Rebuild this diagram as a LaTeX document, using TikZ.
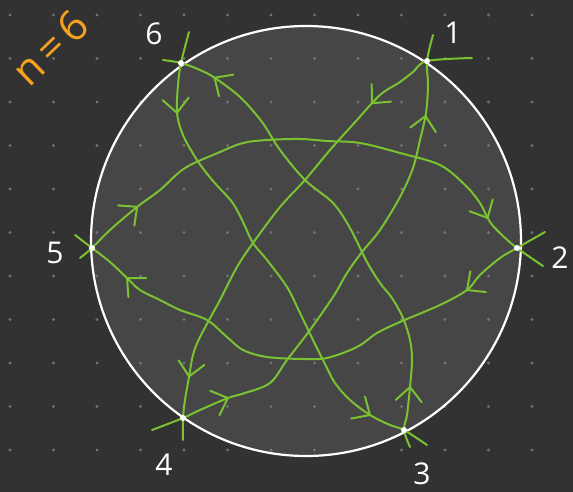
\documentclass[tikz,border=0pt]{standalone}
\usepackage{fontspec}
\setmainfont{Open Sans}
\usetikzlibrary{decorations.markings}
\definecolor{bgc}{HTML}{323232}
\definecolor{discc}{HTML}{464646}
\definecolor{dotc}{HTML}{727272}
\definecolor{grn}{HTML}{7AC232}
\definecolor{orng}{HTML}{F5A01E}
\begin{document}
\begin{tikzpicture}[x=1pt,y=-1pt,
  curve/.style={draw=grn, line width=2pt, line cap=round, line join=round},
  chev/.style={postaction={decorate,decoration={markings,mark=at position #1 with {\draw[curve] (-14pt,-13pt) -- (0pt,0pt) -- (-14pt,13pt);}}}},
  lbl/.style={text=white, font=\fontsize{30}{30}\selectfont, inner sep=0pt},
  ptdot/.style={fill=white},
]
\useasboundingbox (0,0) rectangle (573,492);
\fill[bgc] (0,0) rectangle (573,492);
% disc
\fill[discc] (306,241) circle[radius=215pt];
% grid dots
\foreach \i in {0,...,13} \foreach \j in {0,...,11}
  \fill[dotc] ({10+43.5*\i},{15+43.5*\j}) circle[radius=1.6pt];
\draw[white, line width=2.2pt] (306,241) circle[radius=215pt];
% points
\coordinate (p1) at (427,61);
\coordinate (p2) at (517,248);
\coordinate (p3) at (404,430);
\coordinate (p4) at (183,418);
\coordinate (p5) at (92,248);
\coordinate (p6) at (181,63);
% tails
\coordinate (t5u) at (80,258);  \coordinate (t2u) at (543,266);
\coordinate (t2l) at (545,232); \coordinate (t5l) at (75,235);
\coordinate (t1a) at (472,58);  \coordinate (t4a) at (183,440);
\coordinate (t4b) at (152,430); \coordinate (t1b) at (433,35);
\coordinate (t6c) at (189,32);  \coordinate (t3c) at (427,445);
\coordinate (t3d) at (410,447); \coordinate (t6d) at (163,60);
% curves
\draw[curve, chev=0.14, chev=0.865] plot[smooth, tension=0.55] coordinates {(t5u) (p5) (110,230) (137,207) (160,190) (185,168) (220,152) (243,143) (267,140) (300,139) (327,141) (360,143) (400,153) (440,165) (465,185) (480,203) (490,222) (503,236) (p2) (t2u)};
\draw[curve, chev=0.18, chev=0.876] plot[smooth, tension=0.55] coordinates {(t2l) (p2) (500,258) (480,275) (467,290) (440,305) (400,322) (377,333) (357,347) (327,358) (303,359) (267,357) (243,350) (227,337) (207,320) (180,310) (160,300) (140,290) (127,278) (110,262) (p5) (t5l)};
\draw[curve, chev=0.225, chev=0.875] plot[smooth, tension=0.55] coordinates {(t1a) (p1) (413,72) (400,82) (380,95) (357,120) (330,150) (305,180) (280,207) (253,243) (237,267) (220,300) (200,337) (193,355) (189,377) (185,400) (p4) (t4a)};
\draw[curve, chev=0.158, chev=0.843] plot[smooth, tension=0.55] coordinates {(t4b) (p4) (200,410) (228,398) (245,393) (270,383) (287,360) (310,330) (333,297) (347,273) (362,252) (380,230) (400,197) (413,168) (420,140) (426,113) (428,85) (p1) (t1b)};
\draw[curve, chev=0.161, chev=0.873] plot[smooth, tension=0.55] coordinates {(t6c) (p6) (178,85) (177,113) (183,135) (197,160) (213,181) (232,202) (243,222) (253,243) (267,260) (287,287) (300,313) (313,340) (323,360) (335,383) (350,400) (370,415) (390,425) (p3) (t3c)};
\draw[curve, chev=0.124, chev=0.889] plot[smooth, tension=0.55] coordinates {(t3d) (p3) (407,415) (410,387) (412,360) (410,340) (403,318) (392,298) (380,283) (367,262) (350,228) (333,203) (305,180) (280,150) (262,122) (240,97) (215,78) (200,70) (p6) (t6d)};
% point markers
\foreach \p in {p1,p2,p3,p4,p5,p6} \fill[ptdot] (\p) circle[radius=3pt];
% labels
\node[lbl] (l1) at (453,33) {1};
\node[lbl] (l2) at (560,258) {2};
\node[lbl] (l3) at (422,474) {3};
\node[lbl] (l4) at (164,465) {4};
\node[lbl] (l5) at (55,253) {5};
\node[lbl] (l6) at (154,34) {6};
\node[text=orng, font=\fontsize{42}{42}\selectfont, rotate=44, inner sep=0pt] (nlab) at (50,48) {n\hspace{6pt}=\hspace{6pt}6};
\end{tikzpicture}
\end{document}
